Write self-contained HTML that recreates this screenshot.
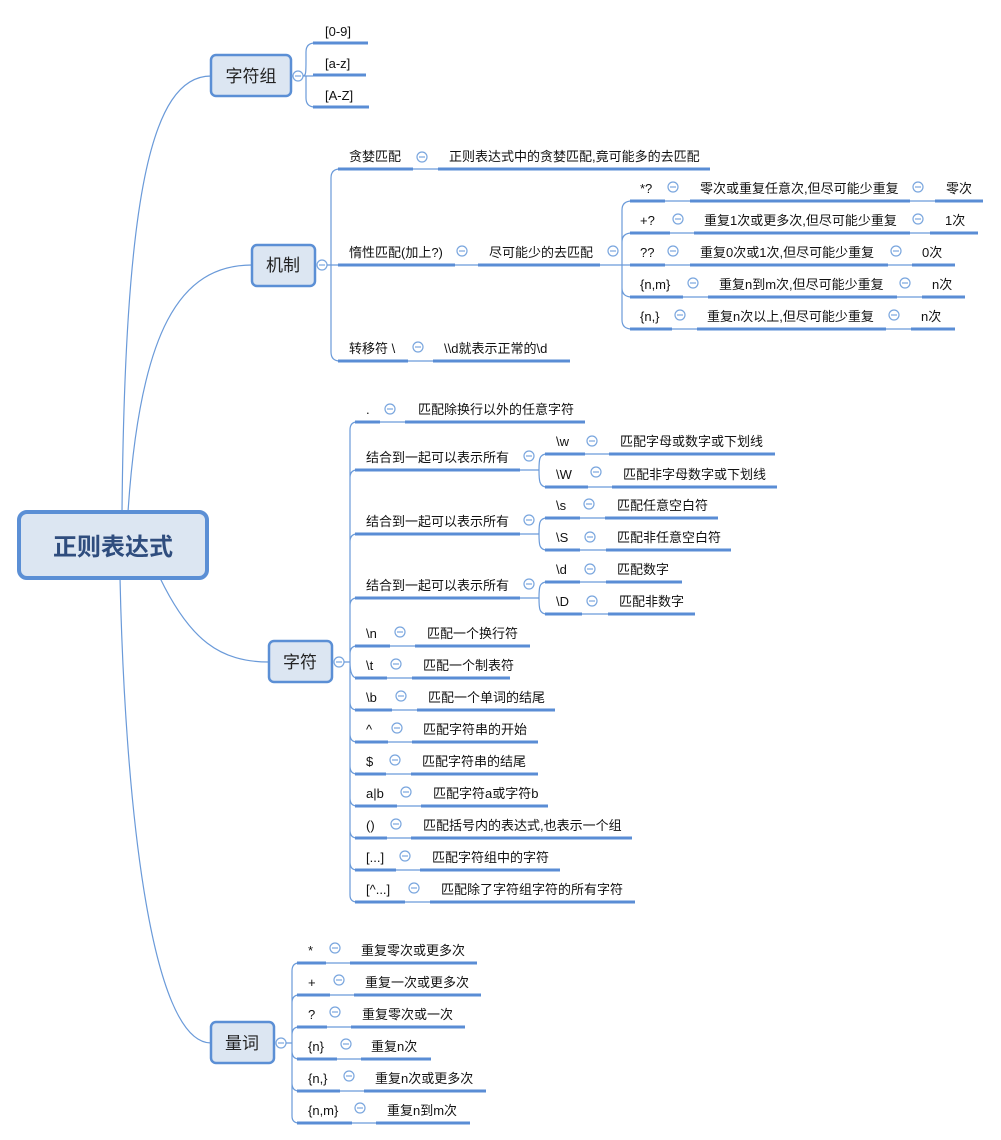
<!DOCTYPE html>
<html><head><meta charset="utf-8"><style>
html,body{margin:0;padding:0;background:#fff;}
svg{display:block;}
text{font-family:"Liberation Sans","Noto Sans CJK SC",sans-serif;font-size:13px;fill:#111;}
.u{stroke:#5a8dd5;stroke-width:3;fill:none;}
.t{stroke:#6a9ad9;stroke-width:1.2;fill:none;}
.c{stroke:#7aa6de;stroke-width:1.2;fill:#fff;}
.b{fill:#dce6f2;stroke:#5b8fd5;stroke-width:2.5;}
.n{font-size:17px;fill:#222;}
</style></head><body>
<svg width="1001" height="1140" viewBox="0 0 1001 1140" xmlns="http://www.w3.org/2000/svg">
<defs>
<g id="cc"><circle class="c" cx="0" cy="0" r="5"/><line x1="-3" y1="0" x2="3" y2="0" stroke="#7aa6de" stroke-width="1.2"/></g>
</defs>
<!-- root connectors -->
<path class="t" d="M122,512 C125,200 150,76 211,76"/>
<path class="t" d="M128,512 C140,330 180,265 252,265"/>
<path class="t" d="M160,578 C190,640 220,662 269,662"/>
<path class="t" d="M120,578 C125,800 150,1043 211,1043"/>

<!-- root -->
<rect x="19" y="512" width="188" height="66" rx="8" fill="#dce6f2" stroke="#5b8fd5" stroke-width="4"/>
<text x="113" y="555" text-anchor="middle" style="font-size:24px;font-weight:bold;fill:#2f4d7e">正则表达式</text>

<!-- 字符组 -->
<rect class="b" x="211" y="55" width="80" height="41" rx="5"/>
<text class="n" x="251" y="82" text-anchor="middle">字符组</text>
<line class="t" x1="291" y1="76" x2="293" y2="76"/>
<use href="#cc" x="298" y="76"/>
<path class="t" d="M303,76 L313,76 M303,76 C306,76 306,72 306,60 L306,52 Q306,43 315,43 M306,76 L306,98 Q306,107 315,107"/>
<line class="u" x1="313" y1="43" x2="368" y2="43"/><text x="325" y="36">[0-9]</text>
<line class="u" x1="313" y1="75" x2="366" y2="75"/><text x="325" y="68">[a-z]</text>
<line class="u" x1="313" y1="107" x2="369" y2="107"/><text x="325" y="100">[A-Z]</text>

<!-- 机制 -->
<rect class="b" x="252" y="245" width="63" height="41" rx="5"/>
<text class="n" x="283" y="271" text-anchor="middle">机制</text>
<use href="#cc" x="322" y="265"/>
<path class="t" d="M327,265 L340,265 M331,265 L331,178 Q331,169 340,169 M331,265 L331,352 Q331,361 340,361"/>
<line class="u" x1="338" y1="169" x2="413" y2="169"/><text x="349" y="161">贪婪匹配</text>
<use href="#cc" x="422" y="157"/>
<line class="t" x1="413" y1="169" x2="438" y2="169"/>
<line class="u" x1="438" y1="169" x2="710" y2="169"/><text x="449" y="161">正则表达式中的贪婪匹配,竟可能多的去匹配</text>

<line class="u" x1="338" y1="265" x2="455" y2="265"/><text x="349" y="257">惰性匹配(加上?)</text>
<use href="#cc" x="462" y="251"/>
<line class="t" x1="455" y1="265" x2="478" y2="265"/>
<line class="u" x1="478" y1="265" x2="600" y2="265"/><text x="489" y="257">尽可能少的去匹配</text>
<use href="#cc" x="613" y="251"/>
<line class="t" x1="600" y1="265" x2="632" y2="265"/>
<path class="t" d="M622,265 L622,210 Q622,201 632,201 M622,242 Q622,233 632,233 M622,265 L622,320 Q622,329 632,329 M622,288 Q622,297 632,297"/>

<line class="u" x1="630" y1="201" x2="665" y2="201"/><text x="640" y="193">*?</text>
<use href="#cc" x="673" y="187"/><line class="t" x1="665" y1="201" x2="690" y2="201"/>
<line class="u" x1="690" y1="201" x2="910" y2="201"/><text x="700" y="193">零次或重复任意次,但尽可能少重复</text>
<use href="#cc" x="918" y="187"/><line class="t" x1="910" y1="201" x2="935" y2="201"/>
<line class="u" x1="935" y1="201" x2="983" y2="201"/><text x="946" y="193">零次</text>

<line class="u" x1="630" y1="233" x2="670" y2="233"/><text x="640" y="225">+?</text>
<use href="#cc" x="678" y="219"/><line class="t" x1="670" y1="233" x2="694" y2="233"/>
<line class="u" x1="694" y1="233" x2="910" y2="233"/><text x="704" y="225">重复1次或更多次,但尽可能少重复</text>
<use href="#cc" x="918" y="219"/><line class="t" x1="910" y1="233" x2="930" y2="233"/>
<line class="u" x1="930" y1="233" x2="978" y2="233"/><text x="945" y="225">1次</text>

<line class="u" x1="630" y1="265" x2="665" y2="265"/><text x="640" y="257">??</text>
<use href="#cc" x="673" y="251"/><line class="t" x1="665" y1="265" x2="690" y2="265"/>
<line class="u" x1="690" y1="265" x2="888" y2="265"/><text x="700" y="257">重复0次或1次,但尽可能少重复</text>
<use href="#cc" x="896" y="251"/><line class="t" x1="888" y1="265" x2="912" y2="265"/>
<line class="u" x1="912" y1="265" x2="955" y2="265"/><text x="922" y="257">0次</text>

<line class="u" x1="630" y1="297" x2="683" y2="297"/><text x="640" y="289">{n,m}</text>
<use href="#cc" x="693" y="283"/><line class="t" x1="683" y1="297" x2="708" y2="297"/>
<line class="u" x1="708" y1="297" x2="897" y2="297"/><text x="719" y="289">重复n到m次,但尽可能少重复</text>
<use href="#cc" x="905" y="283"/><line class="t" x1="897" y1="297" x2="922" y2="297"/>
<line class="u" x1="922" y1="297" x2="965" y2="297"/><text x="932" y="289">n次</text>

<line class="u" x1="630" y1="329" x2="672" y2="329"/><text x="640" y="321">{n,}</text>
<use href="#cc" x="680" y="315"/><line class="t" x1="672" y1="329" x2="697" y2="329"/>
<line class="u" x1="697" y1="329" x2="886" y2="329"/><text x="707" y="321">重复n次以上,但尽可能少重复</text>
<use href="#cc" x="894" y="315"/><line class="t" x1="886" y1="329" x2="911" y2="329"/>
<line class="u" x1="911" y1="329" x2="955" y2="329"/><text x="921" y="321">n次</text>

<line class="u" x1="338" y1="361" x2="408" y2="361"/><text x="349" y="353">转移符 \</text>
<use href="#cc" x="418" y="347"/><line class="t" x1="408" y1="361" x2="433" y2="361"/>
<line class="u" x1="433" y1="361" x2="570" y2="361"/><text x="444" y="353">\\d就表示正常的\d</text>

<!-- 字符 -->
<rect class="b" x="269" y="641" width="63" height="41" rx="5"/>
<text class="n" x="300" y="668" text-anchor="middle">字符</text>
<use href="#cc" x="339" y="662"/>
<path class="t" d="M344,662 L350,662 M350,662 L350,430 Q350,422 357,422 M350,478 Q350,470 357,470 M350,542 Q350,534 357,534 M350,606 Q350,598 357,598 M350,654 Q350,646 357,646 M350,662 Q350,678 357,678 M350,662 L350,895 Q350,902 357,902 M350,702 Q350,710 357,710 M350,734 Q350,742 357,742 M350,766 Q350,774 357,774 M350,798 Q350,806 357,806 M350,830 Q350,838 357,838 M350,862 Q350,870 357,870"/>

<line class="u" x1="355" y1="422" x2="380" y2="422"/><text x="366" y="414">.</text>
<use href="#cc" x="390" y="409"/><line class="t" x1="380" y1="422" x2="405" y2="422"/>
<line class="u" x1="405" y1="422" x2="585" y2="422"/><text x="418" y="414">匹配除换行以外的任意字符</text>

<!-- group1 -->
<line class="u" x1="355" y1="470" x2="520" y2="470"/><text x="366" y="462">结合到一起可以表示所有</text>
<use href="#cc" x="529" y="456"/><line class="t" x1="520" y1="470" x2="539" y2="470"/>
<path class="t" d="M539,470 C539,460 539,454 547,454 M539,470 C539,480 539,487 547,487"/>
<line class="u" x1="545" y1="454" x2="585" y2="454"/><text x="556" y="446">\w</text>
<use href="#cc" x="592" y="441"/><line class="t" x1="585" y1="454" x2="609" y2="454"/>
<line class="u" x1="609" y1="454" x2="775" y2="454"/><text x="620" y="446">匹配字母或数字或下划线</text>
<line class="u" x1="545" y1="487" x2="588" y2="487"/><text x="556" y="479">\W</text>
<use href="#cc" x="596" y="472"/><line class="t" x1="588" y1="487" x2="612" y2="487"/>
<line class="u" x1="612" y1="487" x2="777" y2="487"/><text x="623" y="479">匹配非字母数字或下划线</text>

<!-- group2 -->
<line class="u" x1="355" y1="534" x2="520" y2="534"/><text x="366" y="526">结合到一起可以表示所有</text>
<use href="#cc" x="529" y="520"/><line class="t" x1="520" y1="534" x2="539" y2="534"/>
<path class="t" d="M539,534 C539,524 539,518 547,518 M539,534 C539,544 539,550 547,550"/>
<line class="u" x1="545" y1="518" x2="580" y2="518"/><text x="556" y="510">\s</text>
<use href="#cc" x="589" y="504"/><line class="t" x1="580" y1="518" x2="605" y2="518"/>
<line class="u" x1="605" y1="518" x2="718" y2="518"/><text x="617" y="510">匹配任意空白符</text>
<line class="u" x1="545" y1="550" x2="580" y2="550"/><text x="556" y="542">\S</text>
<use href="#cc" x="590" y="537"/><line class="t" x1="580" y1="550" x2="606" y2="550"/>
<line class="u" x1="606" y1="550" x2="731" y2="550"/><text x="617" y="542">匹配非任意空白符</text>

<!-- group3 -->
<line class="u" x1="355" y1="598" x2="520" y2="598"/><text x="366" y="590">结合到一起可以表示所有</text>
<use href="#cc" x="529" y="584"/><line class="t" x1="520" y1="598" x2="539" y2="598"/>
<path class="t" d="M539,598 C539,588 539,582 547,582 M539,598 C539,608 539,614 547,614"/>
<line class="u" x1="545" y1="582" x2="580" y2="582"/><text x="556" y="574">\d</text>
<use href="#cc" x="590" y="569"/><line class="t" x1="580" y1="582" x2="606" y2="582"/>
<line class="u" x1="606" y1="582" x2="682" y2="582"/><text x="617" y="574">匹配数字</text>
<line class="u" x1="545" y1="614" x2="582" y2="614"/><text x="556" y="606">\D</text>
<use href="#cc" x="592" y="601"/><line class="t" x1="582" y1="614" x2="608" y2="614"/>
<line class="u" x1="608" y1="614" x2="695" y2="614"/><text x="619" y="606">匹配非数字</text>

<line class="u" x1="355" y1="646" x2="390" y2="646"/><text x="366" y="638">\n</text>
<use href="#cc" x="400" y="632"/><line class="t" x1="390" y1="646" x2="415" y2="646"/>
<line class="u" x1="415" y1="646" x2="530" y2="646"/><text x="427" y="638">匹配一个换行符</text>

<line class="u" x1="355" y1="678" x2="387" y2="678"/><text x="366" y="670">\t</text>
<use href="#cc" x="396" y="664"/><line class="t" x1="387" y1="678" x2="412" y2="678"/>
<line class="u" x1="412" y1="678" x2="510" y2="678"/><text x="423" y="670">匹配一个制表符</text>

<line class="u" x1="355" y1="710" x2="392" y2="710"/><text x="366" y="702">\b</text>
<use href="#cc" x="401" y="696"/><line class="t" x1="392" y1="710" x2="417" y2="710"/>
<line class="u" x1="417" y1="710" x2="555" y2="710"/><text x="428" y="702">匹配一个单词的结尾</text>

<line class="u" x1="355" y1="742" x2="388" y2="742"/><text x="366" y="734">^</text>
<use href="#cc" x="397" y="728"/><line class="t" x1="388" y1="742" x2="412" y2="742"/>
<line class="u" x1="412" y1="742" x2="538" y2="742"/><text x="423" y="734">匹配字符串的开始</text>

<line class="u" x1="355" y1="774" x2="386" y2="774"/><text x="366" y="766">$</text>
<use href="#cc" x="395" y="760"/><line class="t" x1="386" y1="774" x2="411" y2="774"/>
<line class="u" x1="411" y1="774" x2="538" y2="774"/><text x="422" y="766">匹配字符串的结尾</text>

<line class="u" x1="355" y1="806" x2="397" y2="806"/><text x="366" y="798">a|b</text>
<use href="#cc" x="406" y="792"/><line class="t" x1="397" y1="806" x2="421" y2="806"/>
<line class="u" x1="421" y1="806" x2="548" y2="806"/><text x="433" y="798">匹配字符a或字符b</text>

<line class="u" x1="355" y1="838" x2="387" y2="838"/><text x="366" y="830">()</text>
<use href="#cc" x="396" y="824"/><line class="t" x1="387" y1="838" x2="411" y2="838"/>
<line class="u" x1="411" y1="838" x2="632" y2="838"/><text x="423" y="830">匹配括号内的表达式,也表示一个组</text>

<line class="u" x1="355" y1="870" x2="396" y2="870"/><text x="366" y="862">[...]</text>
<use href="#cc" x="405" y="856"/><line class="t" x1="396" y1="870" x2="420" y2="870"/>
<line class="u" x1="420" y1="870" x2="560" y2="870"/><text x="432" y="862">匹配字符组中的字符</text>

<line class="u" x1="355" y1="902" x2="405" y2="902"/><text x="366" y="894">[^...]</text>
<use href="#cc" x="414" y="888"/><line class="t" x1="405" y1="902" x2="430" y2="902"/>
<line class="u" x1="430" y1="902" x2="635" y2="902"/><text x="441" y="894">匹配除了字符组字符的所有字符</text>

<!-- 量词 -->
<rect class="b" x="211" y="1022" width="63" height="41" rx="5"/>
<text class="n" x="242" y="1049" text-anchor="middle">量词</text>
<use href="#cc" x="281" y="1043"/>
<path class="t" d="M286,1043 L292,1043 M292,1043 L292,971 Q292,963 299,963 M292,1003 Q292,995 299,995 M292,1035 Q292,1027 299,1027 M292,1043 L292,1116 Q292,1123 299,1123 M292,1051 Q292,1059 299,1059 M292,1083 Q292,1091 299,1091"/>

<line class="u" x1="297" y1="963" x2="326" y2="963"/><text x="308" y="955">*</text>
<use href="#cc" x="335" y="948"/><line class="t" x1="326" y1="963" x2="350" y2="963"/>
<line class="u" x1="350" y1="963" x2="477" y2="963"/><text x="361" y="955">重复零次或更多次</text>

<line class="u" x1="297" y1="995" x2="330" y2="995"/><text x="308" y="987">+</text>
<use href="#cc" x="339" y="980"/><line class="t" x1="330" y1="995" x2="354" y2="995"/>
<line class="u" x1="354" y1="995" x2="481" y2="995"/><text x="365" y="987">重复一次或更多次</text>

<line class="u" x1="297" y1="1027" x2="327" y2="1027"/><text x="308" y="1019">?</text>
<use href="#cc" x="335" y="1012"/><line class="t" x1="327" y1="1027" x2="351" y2="1027"/>
<line class="u" x1="351" y1="1027" x2="465" y2="1027"/><text x="362" y="1019">重复零次或一次</text>

<line class="u" x1="297" y1="1059" x2="337" y2="1059"/><text x="308" y="1051">{n}</text>
<use href="#cc" x="346" y="1044"/><line class="t" x1="337" y1="1059" x2="361" y2="1059"/>
<line class="u" x1="361" y1="1059" x2="431" y2="1059"/><text x="371" y="1051">重复n次</text>

<line class="u" x1="297" y1="1091" x2="340" y2="1091"/><text x="308" y="1083">{n,}</text>
<use href="#cc" x="349" y="1076"/><line class="t" x1="340" y1="1091" x2="364" y2="1091"/>
<line class="u" x1="364" y1="1091" x2="486" y2="1091"/><text x="375" y="1083">重复n次或更多次</text>

<line class="u" x1="297" y1="1123" x2="352" y2="1123"/><text x="308" y="1115">{n,m}</text>
<use href="#cc" x="360" y="1108"/><line class="t" x1="352" y1="1123" x2="376" y2="1123"/>
<line class="u" x1="376" y1="1123" x2="470" y2="1123"/><text x="387" y="1115">重复n到m次</text>
</svg>
</body></html>
